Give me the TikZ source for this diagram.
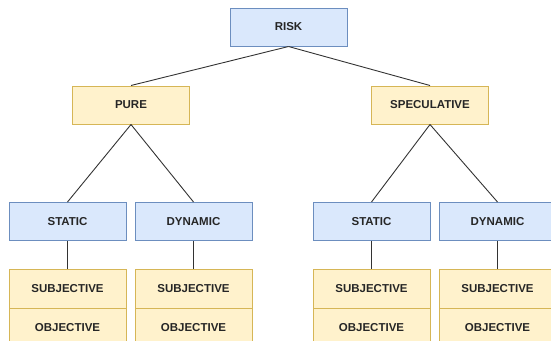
\documentclass[tikz,border=0pt]{standalone}
\usepackage{fontspec}
\setmainfont{Liberation Sans}
\definecolor{bfill}{HTML}{DAE8FC}
\definecolor{bdraw}{HTML}{6C8EBF}
\definecolor{yfill}{HTML}{FFF2CC}
\definecolor{ydraw}{HTML}{D6B656}
\definecolor{lineC}{HTML}{333333}
\begin{document}
\begin{tikzpicture}[x=1pt,y=-1pt,
  box/.style={rectangle, minimum width=117pt, minimum height=38pt, inner sep=0pt, line width=1pt,
    font=\fontsize{11.5}{13}\selectfont\bfseries, text=black!85},
  bluebox/.style={box, fill=bfill, draw=bdraw},
  yellowbox/.style={box, fill=yfill, draw=ydraw},
  conn/.style={draw=lineC, line width=0.9pt}]
\useasboundingbox (0,0) rectangle (551,340);
\clip (0,0) rectangle (551,340);
\node[bluebox] (risk) at (288.5,27) {RISK};
\node[yellowbox] (pure) at (131,105) {PURE};
\node[yellowbox] (spec) at (430,105) {SPECULATIVE};
\node[bluebox] (s1) at (67.5,221.5) {STATIC};
\node[bluebox] (d1) at (193.5,221.5) {DYNAMIC};
\node[bluebox] (s2) at (371.5,221.5) {STATIC};
\node[bluebox] (d2) at (497.5,221.5) {DYNAMIC};
\foreach \n/\x in {a/67.5,b/193.5,c/371.5,d/497.5}{
  \node[yellowbox, minimum height=39pt] (sub\n) at (\x,288.5) {SUBJECTIVE};
  \node[yellowbox, minimum height=39pt] (obj\n) at (\x,327.5) {OBJECTIVE};
}
\draw[conn] (risk.south) -- (pure.north);
\draw[conn] (risk.south) -- (spec.north);
\draw[conn] (pure.south) -- (s1.north);
\draw[conn] (pure.south) -- (d1.north);
\draw[conn] (spec.south) -- (s2.north);
\draw[conn] (spec.south) -- (d2.north);
\draw[conn] (s1.south) -- (suba.north);
\draw[conn] (d1.south) -- (subb.north);
\draw[conn] (s2.south) -- (subc.north);
\draw[conn] (d2.south) -- (subd.north);
\end{tikzpicture}
\end{document}
